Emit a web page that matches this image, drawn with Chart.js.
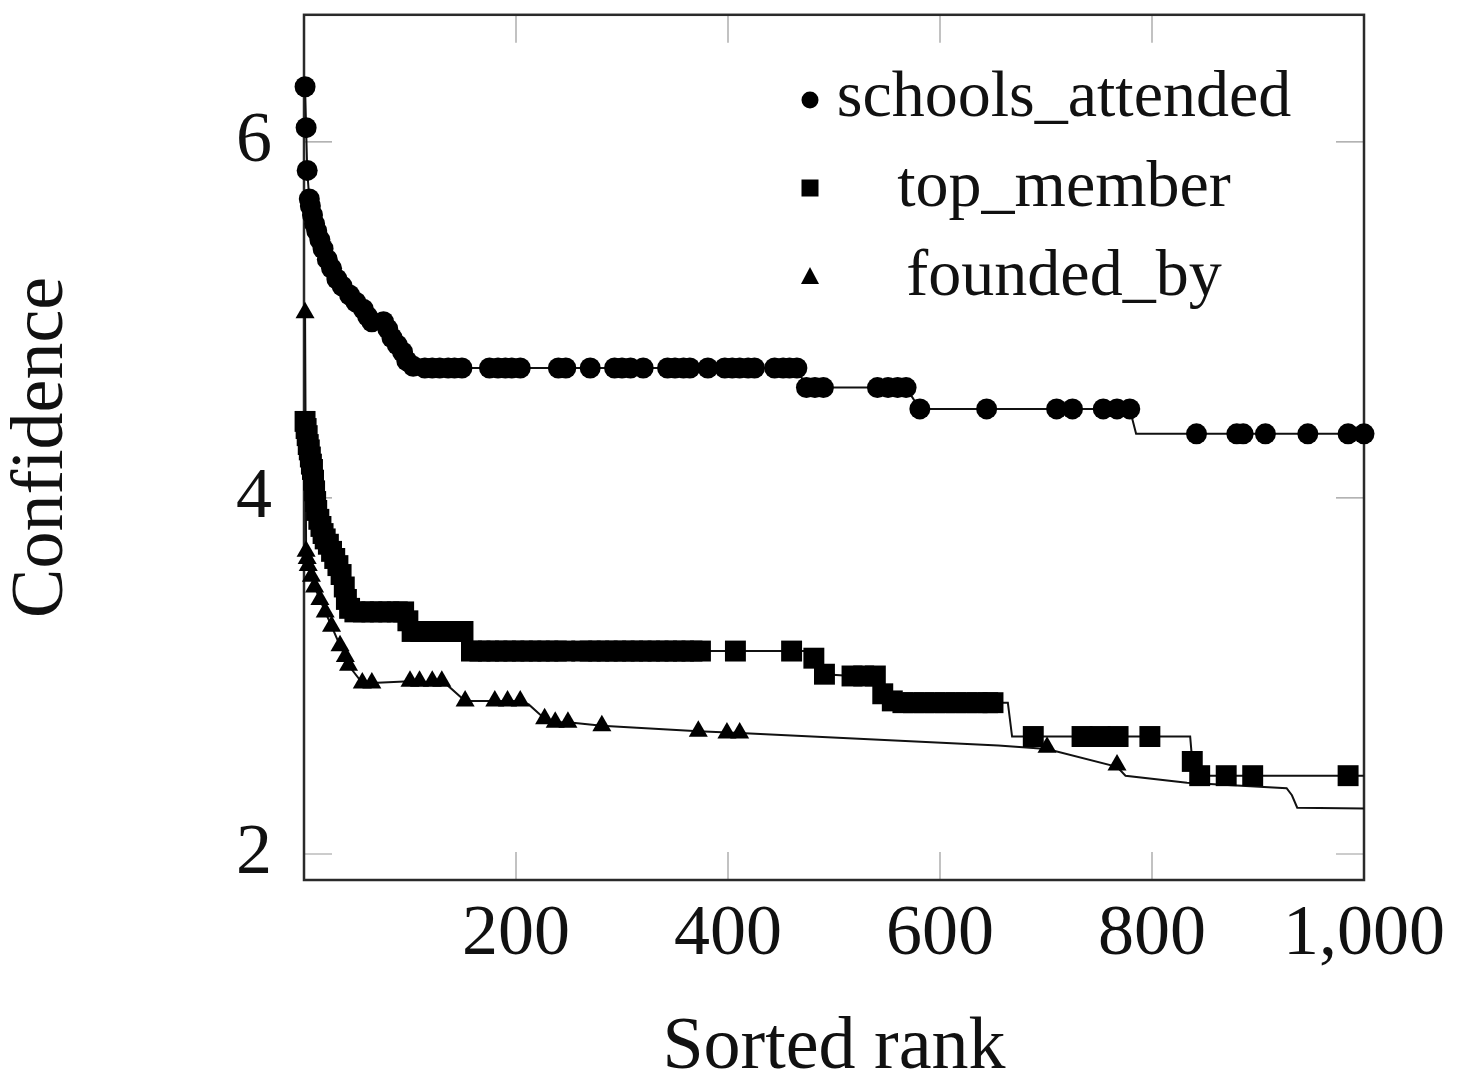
<!DOCTYPE html>
<html><head><meta charset="utf-8">
<script src="https://cdn.jsdelivr.net/npm/chart.js@4/dist/chart.umd.min.js"></script>
<style>html,body{margin:0;padding:0;background:#fff;} canvas{display:block;}</style>
</head><body>
<canvas id="c" width="1457" height="1086"></canvas>
<script>
// ---------- data ----------
const xTicks = [200, 400, 600, 800, 1000];
const yTicks = [2, 4, 6];
const seriesNames = ['schools_attended', 'top_member', 'founded_by'];
const xTitle = 'Sorted rank';
const yTitle = 'Confidence';

// schools_attended
const schoolsMarkX = [1,2,3,5,6,8,10,12,15,18,22,26,31,36,43,49,56,60,64,75,79,83,88,93,97,103,
  114,121,128,136,142,149,175,183,190,196,204,240,247,270,293,300,308,320,343,350,358,364,381,397,404,411,419,425,444,452,458,465,
  474,482,490,541,551,560,568,581,644,710,725,754,767,779,842,880,886,907,947,985,1000];
const schoolsMarkY = [6.31,6.08,5.84,5.68,5.64,5.59,5.54,5.50,5.45,5.40,5.34,5.29,5.23,5.19,5.14,5.10,5.06,5.02,4.99,4.99,4.95,4.90,4.86,4.82,4.77,4.74,
  4.73,4.73,4.73,4.73,4.73,4.73,4.73,4.73,4.73,4.73,4.73,4.73,4.73,4.73,4.73,4.73,4.73,4.73,4.73,4.73,4.73,4.73,4.73,4.73,4.73,4.73,4.73,4.73,4.73,4.73,4.73,4.73,
  4.62,4.62,4.62,4.62,4.62,4.62,4.62,4.50,4.50,4.50,4.50,4.50,4.50,4.50,4.36,4.36,4.36,4.36,4.36,4.36,4.36];
const schoolsLineX = [1,2,3,5,8,12,15,22,31,43,56,64,75,83,93,97,103,114,465,474,568,581,779,785,1000];
const schoolsLineY = [6.31,6.08,5.84,5.68,5.59,5.50,5.45,5.34,5.23,5.14,5.06,4.99,4.99,4.90,4.82,4.77,4.74,4.73,4.73,4.62,4.62,4.50,4.50,4.36,4.36];

// top_member
const topMarkX = [1,2,3,4,5,6,7,8,9,10,11,12,14,16,18,20,23,26,29,32,35,38,40,43,
  48,56,64,72,80,88,94,98,102,110,118,126,134,142,150,
  158,166,174,182,190,198,206,214,222,230,238,246,262,270,278,286,294,302,310,318,326,334,342,350,358,366,374,407,460,
  481,491,517,528,539,546,555,565,575,585,595,605,615,625,635,645,650,
  688,734,751,768,798,838,845,870,895,985];
const topMarkY = [4.43,4.39,4.35,4.30,4.27,4.23,4.19,4.16,4.10,4.04,3.98,3.93,3.88,3.84,3.80,3.77,3.74,3.70,3.66,3.62,3.57,3.50,3.43,3.38,
  3.36,3.36,3.36,3.36,3.36,3.36,3.36,3.31,3.25,3.25,3.25,3.25,3.25,3.25,3.25,
  3.14,3.14,3.14,3.14,3.14,3.14,3.14,3.14,3.14,3.14,3.14,3.14,3.14,3.14,3.14,3.14,3.14,3.14,3.14,3.14,3.14,3.14,3.14,3.14,3.14,3.14,3.14,3.14,3.14,
  3.10,3.01,3.00,3.00,3.00,2.90,2.86,2.85,2.85,2.85,2.85,2.85,2.85,2.85,2.85,2.85,2.85,
  2.66,2.66,2.66,2.66,2.66,2.52,2.44,2.44,2.44,2.44];
const topLineX = [1,2,4,6,8,10,12,16,20,26,32,38,43,48,94,98,102,150,158,460,477,481,491,517,539,546,555,650,664,668,798,836,838,845,1000];
const topLineY = [4.43,4.39,4.30,4.23,4.16,4.04,3.93,3.84,3.77,3.70,3.62,3.50,3.38,3.36,3.36,3.31,3.25,3.25,3.14,3.14,3.14,3.10,3.01,3.00,3.00,2.90,2.86,2.85,2.85,2.66,2.66,2.66,2.52,2.44,2.44];

// founded_by
const foundedMarkX = [1,2,3,4,7,10,15,20,26,34,39,42,55,64,100,109,121,130,152,180,192,204,227,237,249,281,372,399,411,701,767];
const foundedMarkY = [5.04,3.70,3.66,3.62,3.56,3.50,3.43,3.36,3.28,3.17,3.11,3.06,2.96,2.96,2.97,2.97,2.97,2.97,2.86,2.86,2.86,2.86,2.76,2.74,2.74,2.72,2.69,2.68,2.68,2.60,2.50];
const foundedLineX = [1,2,4,7,10,15,20,26,34,39,42,55,64,100,130,135,152,204,212,227,237,249,281,372,411,655,701,767,775,833,927,932,937,1000];
const foundedLineY = [5.04,3.70,3.62,3.56,3.50,3.43,3.36,3.28,3.17,3.11,3.06,2.96,2.96,2.97,2.96,2.95,2.86,2.86,2.84,2.76,2.74,2.74,2.72,2.69,2.68,2.61,2.59,2.49,2.44,2.40,2.37,2.33,2.26,2.255];

// ---------- chart ----------
const FONT = '"Liberation Serif", "DejaVu Serif", serif';
const pts = (xs, ys) => xs.map((x, i) => ({x: x, y: ys[i]}));
const lineDs = (xs, ys, order) => ({type: 'line', data: pts(xs, ys), borderColor: '#111', borderWidth: 2,
  pointRadius: 0, fill: false, tension: 0, clip: false, order: order});
const markDs = (xs, ys, style, r, order) => ({type: 'scatter', data: pts(xs, ys), showLine: false,
  pointStyle: style, pointRadius: r, pointHoverRadius: r, backgroundColor: '#000', borderColor: '#000',
  borderWidth: 0, clip: false, order: order});

const framePlugin = {
  id: 'frame',
  beforeDatasetsDraw(chart) {
    const {ctx, chartArea: a, scales: {x, y}} = chart;
    ctx.save();
    ctx.strokeStyle = '#9a9a9a';
    ctx.lineWidth = 1.2;
    const L = 28;
    ctx.beginPath();
    xTicks.forEach(v => {
      const p = x.getPixelForValue(v);
      ctx.moveTo(p, a.bottom); ctx.lineTo(p, a.bottom - L);
      ctx.moveTo(p, a.top); ctx.lineTo(p, a.top + L);
    });
    yTicks.forEach(v => {
      const p = y.getPixelForValue(v);
      ctx.moveTo(a.left, p); ctx.lineTo(a.left + L, p);
      ctx.moveTo(a.right, p); ctx.lineTo(a.right - L, p);
    });
    ctx.stroke();
    ctx.strokeStyle = '#2a2a2a';
    ctx.lineWidth = 2.5;
    ctx.strokeRect(a.left, a.top, a.right - a.left, a.bottom - a.top);
    ctx.restore();
  }
};

const legendPlugin = {
  id: 'customLegend',
  afterDraw(chart) {
    const ctx = chart.ctx;
    ctx.save();
    ctx.fillStyle = '#000';
    const mx = 810;
    ctx.beginPath(); ctx.arc(mx, 100, 8.5, 0, Math.PI * 2); ctx.fill();
    ctx.fillRect(mx - 8.5, 188 - 8.5, 17, 17);
    ctx.beginPath(); ctx.moveTo(mx, 267); ctx.lineTo(mx + 9, 284); ctx.lineTo(mx - 9, 284); ctx.closePath(); ctx.fill();
    ctx.fillStyle = '#111';
    ctx.font = '66px ' + FONT;
    ctx.textAlign = 'center';
    ctx.textBaseline = 'alphabetic';
    const cx = 1064;
    ctx.fillText(seriesNames[0], cx, 116);
    ctx.fillText(seriesNames[1], cx, 206);
    ctx.fillText(seriesNames[2], cx, 295);
    ctx.restore();
  }
};

new Chart(document.getElementById('c'), {
  type: 'scatter',
  data: {
    datasets: [
      markDs(schoolsMarkX, schoolsMarkY, 'circle', 10.5, 1),
      lineDs(schoolsLineX, schoolsLineY, 2),
      markDs(topMarkX, topMarkY, 'rect', 14.8, 3),
      lineDs(topLineX, topLineY, 4),
      markDs(foundedMarkX, foundedMarkY, 'triangle', 11, 5),
      lineDs(foundedLineX, foundedLineY, 6)
    ]
  },
  options: {
    responsive: false,
    animation: false,
    devicePixelRatio: 1,
    events: [],
    layout: {padding: {top: 12, right: 92, left: 0, bottom: 0}},
    plugins: {legend: {display: false}, tooltip: {enabled: false}},
    scales: {
      x: {
        type: 'linear', min: 0, max: 1000,
        grid: {display: false, drawTicks: false},
        border: {display: false},
        afterBuildTicks: s => { s.ticks = xTicks.map(v => ({value: v})); },
        afterFit: s => { s.height = 206; },
        ticks: {font: {family: FONT, size: 72}, color: '#111', padding: 12, maxRotation: 0, autoSkip: false,
          callback: v => Number(v).toLocaleString('en-US')},
        title: {display: true, text: xTitle, font: {family: FONT, size: 74, lineHeight: 1.0}, color: '#111', padding: 0}
      },
      y: {
        type: 'linear', min: 1.854, max: 6.714,
        grid: {display: false, drawTicks: false},
        border: {display: false},
        afterBuildTicks: s => { s.ticks = yTicks.map(v => ({value: v})); },
        afterFit: s => { s.width = 304; s.paddingTop = 0; s.paddingBottom = 0; },
        ticks: {font: {family: FONT, size: 72, lineHeight: 0.2}, color: '#111', padding: 32, autoSkip: false,
          callback: v => String(v)},
        title: {display: true, text: yTitle, font: {family: FONT, size: 74, lineHeight: 1.15}, color: '#111', padding: 0}
      }
    }
  },
  plugins: [framePlugin, legendPlugin]
});
</script>
</body></html>
